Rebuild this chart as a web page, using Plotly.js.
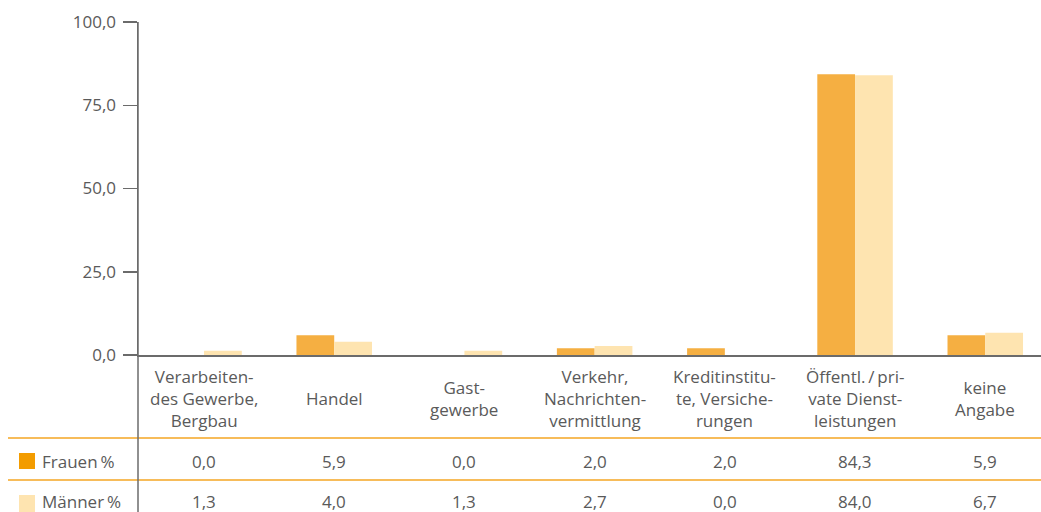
<!DOCTYPE html>
<html><head><meta charset="utf-8">
<script src="https://cdn.plot.ly/plotly-3.0.1.min.js"></script>
<style>html,body{margin:0;padding:0;background:#fff;}#chart{width:1041px;height:512px;}</style>
</head><body><div id="chart"></div>
<script>
const categories = ["Verarbeiten-<br>des Gewerbe,<br>Bergbau","Handel","Gast-<br>gewerbe","Verkehr,<br>Nachrichten-<br>vermittlung","Kreditinstitu-<br>te, Versiche-<br>rungen","Öffentl.\u2009/\u2009pri-<br>vate Dienst-<br>leistungen","keine<br>Angabe"];
const frauen = [0.0, 5.9, 0.0, 2.0, 2.0, 84.3, 5.9];
const maenner = [1.3, 4.0, 1.3, 2.7, 0.0, 84.0, 6.7];
const seriesNames = ["Frauen\u2009%", "Männer\u2009%"];
const yTicks = [0, 25, 50, 75, 100];

const W = 1041, H = 512, L = 138, T = 22, B = 157;
const plotH = H - T - B, plotW = W - L;
const py = p => (H - B - p) / plotH;      // pixel y -> paper y
const px = p => (p - L) / plotW;          // pixel x -> paper x
const gray = '#5a5a5a', axisCol = '#6b6b6b', orange = '#F5A623';
const fmt = v => v.toFixed(1).replace('.', ',');
const xs = categories.map((c, i) => i);
const FS = 17;

const traces = [
  {type:'bar', x: xs, y: frauen, name: seriesNames[0], marker:{color:'#F5AF42'}, hoverinfo:'none'},
  {type:'bar', x: xs, y: maenner, name: seriesNames[1], marker:{color:'#FEE4B0'}, hoverinfo:'none'}
];

const annotations = [];
const shapes = [];
// category labels, vertically centred in the label band
categories.forEach((c, i) => annotations.push({x: i, xref:'x', y: py(398), yref:'paper', text: c, showarrow:false, xanchor:'center', yanchor:'middle', align:'center', font:{size:FS, color:gray}}));
const rows = [frauen, maenner];
const rowY = [461, 501];
const swatch = ['#F39C00', '#FEE4B0'];
rows.forEach((arr, r) => {
  arr.forEach((v, i) => annotations.push({x: i, xref:'x', y: py(rowY[r]), yref:'paper', text: fmt(v), showarrow:false, xanchor:'center', yanchor:'middle', font:{size:FS, color:gray}}));
  annotations.push({x: px(40), xref:'paper', y: py(rowY[r]), yref:'paper', text: seriesNames[r], showarrow:false, xanchor:'left', yanchor:'middle', font:{size:FS, color:gray}});
});
shapes.push({type:'rect', xref:'paper', yref:'paper', x0: px(19), x1: px(35), y0: py(469), y1: py(453), fillcolor: swatch[0], line:{width:0}});
shapes.push({type:'rect', xref:'paper', yref:'paper', x0: px(19), x1: px(35), y0: py(512), y1: py(495), fillcolor: swatch[1], line:{width:0}});
[438, 480].forEach(yp => shapes.push({type:'line', xref:'paper', yref:'paper', x0: px(8), x1: 1, y0: py(yp), y1: py(yp), line:{color: orange, width:1.5}}));
shapes.push({type:'line', xref:'paper', yref:'paper', x0: 0, x1: 0, y0: 1, y1: py(512), line:{color: axisCol, width:1.5}});

const layout = {
  width: W, height: H,
  margin: {l: L, r: 0, t: T, b: B},
  paper_bgcolor: '#fff', plot_bgcolor: '#fff',
  separators: ',.',
  showlegend: false,
  barmode: 'group', bargap: 0.42, bargroupgap: 0,
  font: {family: '"Open Sans", "Noto Sans", sans-serif', size: FS, color: gray},
  xaxis: {
    range: [-0.507, 6.428], tickvals: xs, showticklabels: false,
    showline: true, linecolor: axisCol, linewidth: 1.5, ticks: '', showgrid: false, zeroline: false, fixedrange: true
  },
  yaxis: {
    range: [0, 100], tickvals: yTicks, tickformat: '.1f',
    showline: true, linecolor: axisCol, linewidth: 1.5, ticks: 'outside', ticklen: 14, tickcolor: axisCol, tickwidth: 1.5,
    showgrid: false, zeroline: false, tickfont: {size: FS, color: gray}, ticklabelstandoff: 3, fixedrange: true
  },
  annotations, shapes
};
Plotly.newPlot('chart', traces, layout, {staticPlot: true, displayModeBar: false});
</script></body></html>
